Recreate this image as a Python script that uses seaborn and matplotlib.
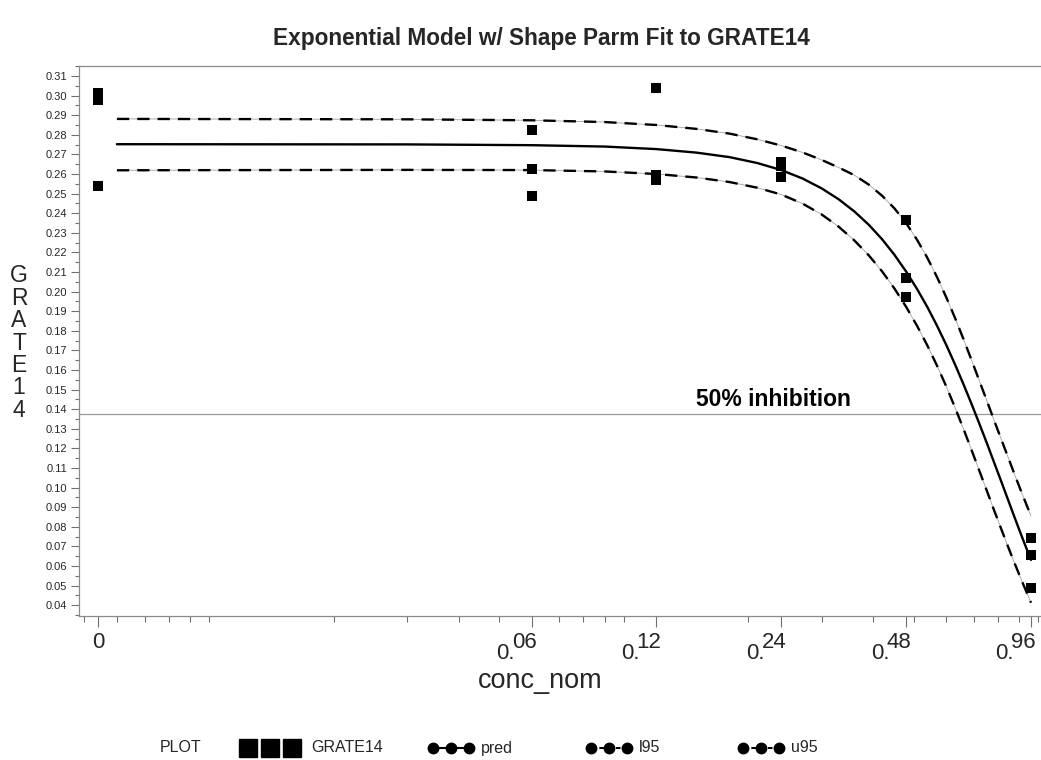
import matplotlib
matplotlib.use("Agg")
import matplotlib.pyplot as plt
import matplotlib.ticker as mticker
import matplotlib.transforms as mtrans
from matplotlib.lines import Line2D
import seaborn as sns
import pandas as pd

# ---------------- data ----------------
ZERO_POS = 0.0054          # where concentration 0 is drawn on the log axis

obs_conc = [0, 0, 0, 0.06, 0.06, 0.06, 0.12, 0.12, 0.12,
            0.24, 0.24, 0.24, 0.48, 0.48, 0.48, 0.96, 0.96, 0.96]
obs_grate = [0.3015, 0.2975, 0.2540, 0.2823, 0.2624, 0.2489, 0.3039, 0.2595, 0.2567,
             0.2660, 0.2641, 0.2584, 0.2365, 0.2070, 0.1970, 0.0745, 0.0655, 0.0490]

curve_conc = [0.006, 0.03, 0.06, 0.09, 0.12, 0.15, 0.18, 0.21, 0.24, 0.27, 0.30, 0.33,
              0.36, 0.39, 0.42, 0.45, 0.48, 0.51, 0.54, 0.57, 0.60, 0.63, 0.66, 0.69,
              0.72, 0.75, 0.78, 0.81, 0.84, 0.87, 0.90, 0.93, 0.96]
pred = [0.2752, 0.2751, 0.2747, 0.2740, 0.2727, 0.2709, 0.2686, 0.2656, 0.2620, 0.2577,
        0.2527, 0.2471, 0.2409, 0.2341, 0.2267, 0.2187, 0.2102, 0.2013, 0.1921, 0.1825,
        0.1727, 0.1627, 0.1527, 0.1427, 0.1328, 0.1231, 0.1135, 0.1043, 0.0953, 0.0866,
        0.0783, 0.0705, 0.0631]
u95 = [0.2881, 0.2879, 0.2874, 0.2865, 0.2850, 0.2830, 0.2806, 0.2777, 0.2745, 0.2710,
       0.2672, 0.2633, 0.2594, 0.2546, 0.2489, 0.2424, 0.2349, 0.2264, 0.2172, 0.2073,
       0.1970, 0.1864, 0.1757, 0.1651, 0.1547, 0.1447, 0.1350, 0.1258, 0.1170, 0.1085,
       0.1004, 0.0928, 0.0855]
l95 = [0.2619, 0.2621, 0.2620, 0.2613, 0.2600, 0.2582, 0.2559, 0.2530, 0.2495, 0.2449,
       0.2394, 0.2331, 0.2261, 0.2185, 0.2103, 0.2015, 0.1922, 0.1825, 0.1725, 0.1621,
       0.1515, 0.1407, 0.1299, 0.1192, 0.1088, 0.0988, 0.0891, 0.0800, 0.0713, 0.0631,
       0.0554, 0.0482, 0.0413]

inhib_level = 0.1375
major_x = [0, 0.06, 0.12, 0.24, 0.48, 0.96]
major_x_int = ["0", "0.", "0.", "0.", "0.", "0."]      # lowered leading part
major_x_frac = ["0", "06", "12", "24", "48", "96"]       # raised part

# ---------------- style ----------------
sns.set_theme(style="white")
plt.rcParams["font.family"] = ["Liberation Sans", "DejaVu Sans"]

W, H = 1041, 760
fig = plt.figure(figsize=(W / 100, H / 100), dpi=100)
fig.patch.set_facecolor("white")
ax = fig.add_axes([79 / W, 1 - 616 / H, (1040.5 - 79) / W, (616 - 66) / H])
ax.set_facecolor("white")

def px(c):
    return [ZERO_POS if v == 0 else v for v in c]

obs_df = pd.DataFrame({"conc": px(obs_conc), "grate": obs_grate})
curve_df = pd.DataFrame({"conc": curve_conc, "pred": pred, "u95": u95, "l95": l95})

# 50% inhibition line
ax.axhline(inhib_level, color="#9a9a9a", lw=0.9, zorder=1)
ax.text(0.1498, 0.1418, "50% inhibition", fontsize=16.5, fontweight="bold",
        ha="left", va="baseline", color="black")

# bands: thin grey line + black dashes
for col in ("u95", "l95"):
    sns.lineplot(data=curve_df, x="conc", y=col, ax=ax, color="#a0a0a0", lw=0.6,
                 estimator=None, sort=False, zorder=2)
    sns.lineplot(data=curve_df, x="conc", y=col, ax=ax, color="black", lw=1.7,
                 linestyle=(0, (5.2, 3.4)), estimator=None, sort=False, zorder=3)

sns.lineplot(data=curve_df, x="conc", y="pred", ax=ax, color="black", lw=1.7,
             estimator=None, sort=False, zorder=3)

sns.scatterplot(data=obs_df, x="conc", y="grate", ax=ax, marker="s", s=42,
                color="black", edgecolor="black", linewidth=0, zorder=4)

# ---------------- axes ----------------
ax.set_xscale("log")
ax.set_xlim(0.00486, 1.012)
ax.set_ylim(0.03449, 0.3151)

ax.xaxis.set_major_locator(mticker.FixedLocator(px(major_x)))
ax.xaxis.set_major_formatter(mticker.FixedFormatter(major_x_frac))
minor_x = [0.005, 0.006, 0.007, 0.008, 0.009, 0.01, 0.02, 0.03, 0.04, 0.05,
           0.07, 0.08, 0.09, 0.1, 0.2, 0.3, 0.4, 0.5, 0.6, 0.7, 0.8, 0.9, 1.0]
ax.xaxis.set_minor_locator(mticker.FixedLocator(minor_x))
ax.xaxis.set_minor_formatter(mticker.NullFormatter())

ax.yaxis.set_major_locator(mticker.MultipleLocator(0.01))
ax.yaxis.set_minor_locator(mticker.MultipleLocator(0.005))
ax.yaxis.set_major_formatter(mticker.FormatStrFormatter("%.2f"))

ax.tick_params(axis="x", which="major", direction="out", length=8, width=0.8,
               color="#707070", labelsize=16, pad=3.5, bottom=True)
ax.tick_params(axis="x", which="minor", direction="out", length=4, width=0.8,
               color="#707070", bottom=True)
ax.tick_params(axis="y", which="major", direction="out", length=5.5, width=0.8,
               color="#707070", labelsize=8, pad=3, left=True)
ax.tick_params(axis="y", which="minor", direction="out", length=3, width=0.8,
               color="#707070", left=True)

offset = mtrans.ScaledTranslation(5 / 100, 0, fig.dpi_scale_trans)
for i, lab in enumerate(ax.get_xticklabels()):
    if i > 0:
        lab.set_horizontalalignment("right")
        lab.set_transform(lab.get_transform() + offset)

# lowered "0." part of the SAS-style tick labels
for xv, part in zip(px(major_x)[1:], major_x_int[1:]):
    ax.annotate(part, xy=(xv, 0), xycoords=("data", "axes fraction"),
                xytext=(-17, -27), textcoords="offset pixels",
                ha="right", va="top", fontsize=16, annotation_clip=False)

for side in ("left", "bottom", "top"):
    ax.spines[side].set_color("#8a8a8a")
    ax.spines[side].set_linewidth(0.9)
ax.spines["right"].set_visible(False)
ax.set_xlabel("")
ax.set_ylabel("")
ax.grid(False)

# ---------------- text ----------------
fig.text(541 / W, 1 - 38 / H, "Exponential Model w/ Shape Parm Fit to GRATE14",
         ha="center", va="center", fontsize=16.3, fontweight="bold")
fig.text(540 / W, 1 - 681 / H, "conc_nom", ha="center", va="center", fontsize=19.5)
fig.text(19 / W, 1 - 343 / H, "G\nR\nA\nT\nE\n1\n4", ha="center", va="center",
         fontsize=16.5, linespacing=0.97)

# ---------------- legend ----------------
ly = 1 - 748 / H
def fx(x):
    return x / W

fig.text(fx(160), ly, "PLOT", ha="left", va="center", fontsize=11.5)
fig.add_artist(Line2D([fx(248), fx(270), fx(292)], [ly] * 3, transform=fig.transFigure,
                      ls="none", marker="s", ms=13, color="black"))
fig.text(fx(311), ly, "GRATE14", ha="left", va="center", fontsize=11.5)

items = [(433, "pred", "-"), (591, "l95", (0, (2.2, 1.8))), (743, "u95", (0, (2.2, 1.8)))]
for x0, lab, ls in items:
    xs = [fx(x0), fx(x0 + 18), fx(x0 + 36)]
    fig.add_artist(Line2D(xs, [ly] * 3, transform=fig.transFigure, ls=ls, lw=1.5,
                          marker="o", ms=7.5, color="black"))
    fig.text(fx(x0 + 48), ly, lab, ha="left", va="center", fontsize=11.5)

fig.savefig("out.png", dpi=100, facecolor="white")
